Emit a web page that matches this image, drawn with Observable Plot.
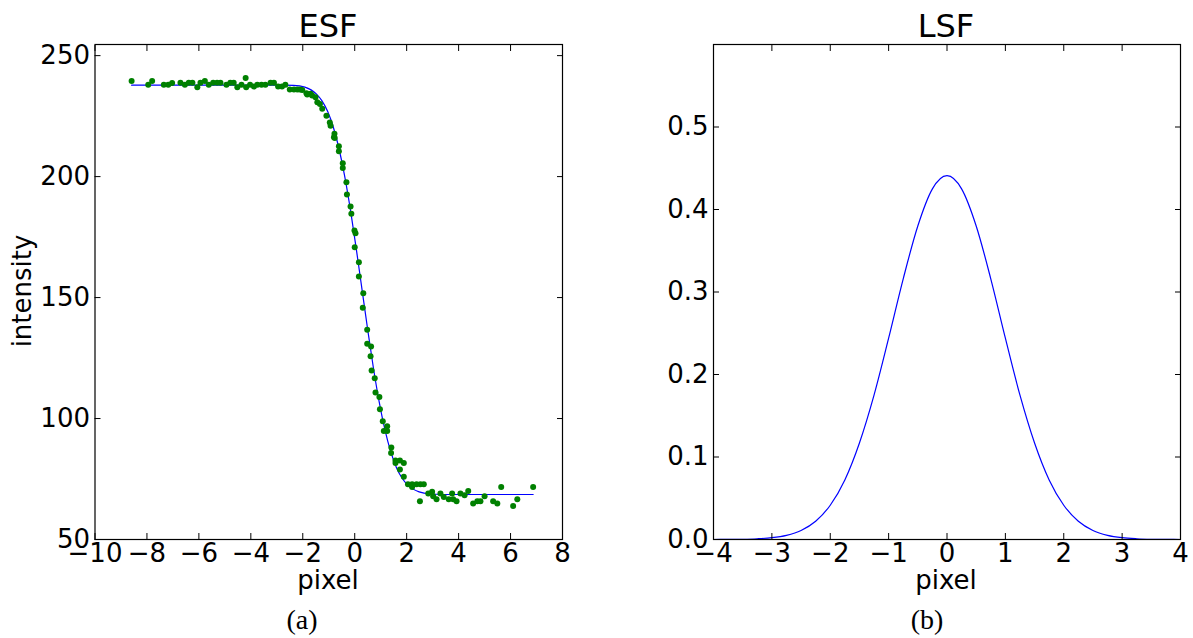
<!DOCTYPE html>
<html><head><meta charset="utf-8">
<script src="https://cdn.jsdelivr.net/npm/d3@7"></script>
<script src="https://cdn.jsdelivr.net/npm/@observablehq/plot@0.6"></script>
<style>
body{margin:0;background:#fff;}
#wrap{position:relative;width:1193px;height:638px;overflow:hidden;font-family:"DejaVu Sans";color:#000;}
.t{position:absolute;line-height:1;white-space:nowrap;transform:translateX(-50%);}
.p{position:absolute;top:0;}
</style></head><body>
<div id="wrap">
  <div class="t" style="left:328px;top:10px;font-size:32px;">ESF</div>
  <div class="t" style="left:946px;top:10px;font-size:32px;">LSF</div>
  <div class="t" style="left:328px;top:567px;font-size:26px;">pixel</div>
  <div class="t" style="left:946px;top:567px;font-size:26px;">pixel</div>
  <div class="t" style="left:22px;top:291px;font-size:26px;transform:translate(-50%,-50%) rotate(-90deg);">intensity</div>
  <div class="t" style="left:302px;top:606px;font-size:28px;font-family:'Liberation Serif';">(a)</div>
  <div class="t" style="left:927px;top:606px;font-size:28px;font-family:'Liberation Serif';">(b)</div>
  <div id="left" class="p" style="left:0px;"></div>
  <div id="right" class="p" style="left:600px;"></div>
</div>
<script>
// ESF measured samples
const esfX = [-8.59,-7.95,-7.80,-7.35,-7.18,-7.03,-6.71,-6.54,-6.39,-6.25,-6.06,-5.94,-5.77,-5.62,-5.45,-5.30,-5.17,-4.94,-4.79,-4.66,-4.52,-4.36,-4.20,-4.18,-4.03,-3.88,-3.75,-3.59,-3.44,-3.24,-3.11,-2.95,-2.80,-2.67,
  -2.50,-2.34,-2.21,-2.11,-2.02,-1.86,-1.83,-1.70,-1.64,-1.51,-1.44,-1.34,-1.25,-1.09,-0.96,-0.93,-0.80,-0.78,-0.77,-0.61,-0.61,-0.46,-0.46,-0.32,-0.30,-0.16,-0.13,-0.01,0.03,0.00,0.16,0.16,0.33,0.31,0.48,0.48,0.63,0.61,0.65,0.77,0.80,0.95,0.97,1.08,1.12,1.25,1.25,1.41,1.40,1.57,1.74,1.89,1.57,1.74,1.89,
  2.05,2.21,2.38,2.53,2.66,2.21,2.51,2.83,2.98,3.02,3.15,3.30,3.43,3.62,3.75,3.79,3.92,4.07,4.23,4.37,4.56,4.72,4.84,5.00,5.33,5.49,5.64,6.10,6.26,6.87];
const esfY = [239.5,238.0,239.5,238.0,238.0,238.7,238.8,238.0,238.8,238.8,236.9,238.8,239.5,238.0,238.8,238.8,238.8,238.0,238.8,238.8,236.9,238.0,240.8,236.9,238.0,237.2,238.0,238.0,238.0,238.8,238.8,237.2,237.2,238.0,
  236.0,236.0,236.0,236.0,235.8,234.5,233.9,234.2,233.5,232.8,230.7,230.0,228.0,225.2,222.4,221.0,216.3,217.7,216.0,212.5,210.5,205.5,203.6,197.7,192.6,187.6,184.6,177.7,176.6,170.8,164.6,158.7,151.8,145.8,136.7,130.9,129.8,125.7,119.9,116.7,110.8,108.9,103.8,98.9,94.8,96.8,94.8,88.0,85.8,82.7,82.7,81.6,81.6,78.9,75.9,
  72.8,72.8,72.8,72.8,72.8,71.7,65.8,69.0,69.7,67.9,66.6,69.0,67.6,66.6,69.0,66.6,65.8,69.0,68.3,70.0,64.9,65.8,65.8,67.9,65.8,64.9,71.7,63.8,66.6,71.7];
// ESF fitted curve
const fitX = [-8.59,-4.00,-2.80,-2.36,-1.92,-1.48,-1.26,-1.04,-0.82,-0.60,-0.38,-0.16,0.06,0.28,0.50,0.72,0.94,1.16,1.38,1.60,1.82,2.04,2.48,2.92,3.36,6.87];
const fitY = [237.8,237.8,237.8,237.7,237.0,234.2,231.3,226.9,220.3,211.3,199.8,185.9,170.1,153.4,136.7,120.9,107.0,95.5,86.5,79.9,75.4,72.5,69.7,68.8,68.6,68.6];
// LSF curve
const lsfX = [-4,-3.75,-3.5,-3.25,-3,-2.75,-2.5,-2.25,-2,-1.75,-1.5,-1.25,-1,-0.75,-0.5,-0.25,0,0.25,0.5,0.75,1,1.25,1.5,1.75,2,2.25,2.5,2.75,3,3.25,3.5,3.75,4];
const lsfY = [0.0000,0.0001,0.0003,0.0009,0.0022,0.0051,0.0110,0.0222,0.0415,0.0722,0.117,0.175,0.244,0.316,0.380,0.425,0.441,0.425,0.380,0.316,0.244,0.175,0.117,0.0722,0.0415,0.0222,0.0110,0.0051,0.0022,0.0009,0.0003,0.0001,0.0000];
// ticks
const esfXTicks = [-10,-8,-6,-4,-2,0,2,4,6,8];
const esfYTicks = [50,100,150,200,250];
const lsfXTicks = [-4,-3,-2,-1,0,1,2,3,4];
const lsfYTicks = [0,0.1,0.2,0.3,0.4,0.5];

const esfPts = esfX.map((x,i)=>({x, y: esfY[i]}));
const fitPts = fitX.map((x,i)=>({x, y: fitY[i]}));
const lsfPts = lsfX.map((x,i)=>({x, y: lsfY[i]}));

function axes(xTicks, yTicks, xFmt, yFmt) {
  const fs = 26;
  return [
    Plot.frame({stroke: "#000", strokeWidth: 1.2}),
    Plot.axisX(xTicks, {anchor: "bottom", tickSize: 0, tickPadding: 4, tickFormat: xFmt, fontSize: fs, label: null}),
    Plot.axisX(xTicks, {anchor: "bottom", tickSize: -6, tickFormat: () => "", label: null}),
    Plot.axisX(xTicks, {anchor: "top", tickSize: -6, tickFormat: () => "", label: null}),
    Plot.axisY(yTicks, {anchor: "left", tickSize: 0, tickPadding: 5, tickFormat: yFmt, fontSize: fs, label: null}),
    Plot.axisY(yTicks, {anchor: "left", tickSize: -6, tickFormat: () => "", label: null}),
    Plot.axisY(yTicks, {anchor: "right", tickSize: -6, tickFormat: () => "", label: null})
  ];
}

const intFmt = d3.format("d");
const left = Plot.plot({
  width: 600, height: 575,
  marginLeft: 94.5, marginRight: 38, marginTop: 44, marginBottom: 36,
  style: {fontFamily: "DejaVu Sans", background: "transparent", overflow: "visible", color: "#000"},
  x: {domain: [-10, 8]},
  y: {domain: [50, 254.6]},
  marks: [
    Plot.line(fitPts, {x: "x", y: "y", stroke: "#0000ff", strokeWidth: 1.2, curve: "monotone-x"}),
    Plot.dot(esfPts, {x: "x", y: "y", r: 3, fill: "#008000", stroke: "none"}),
    ...axes(esfXTicks, esfYTicks, intFmt, intFmt)
  ]
});
document.getElementById("left").appendChild(left);

const right = Plot.plot({
  width: 593, height: 575,
  marginLeft: 113, marginRight: 13, marginTop: 44, marginBottom: 36,
  style: {fontFamily: "DejaVu Sans", background: "transparent", overflow: "visible", color: "#000"},
  x: {domain: [-4, 4]},
  y: {domain: [0, 0.6]},
  marks: [
    Plot.line(lsfPts, {x: "x", y: "y", stroke: "#0000ff", strokeWidth: 1.2, curve: "monotone-x"}),
    ...axes(lsfXTicks, lsfYTicks, intFmt, d3.format(".1f"))
  ]
});
document.getElementById("right").appendChild(right);
</script>
</body></html>
